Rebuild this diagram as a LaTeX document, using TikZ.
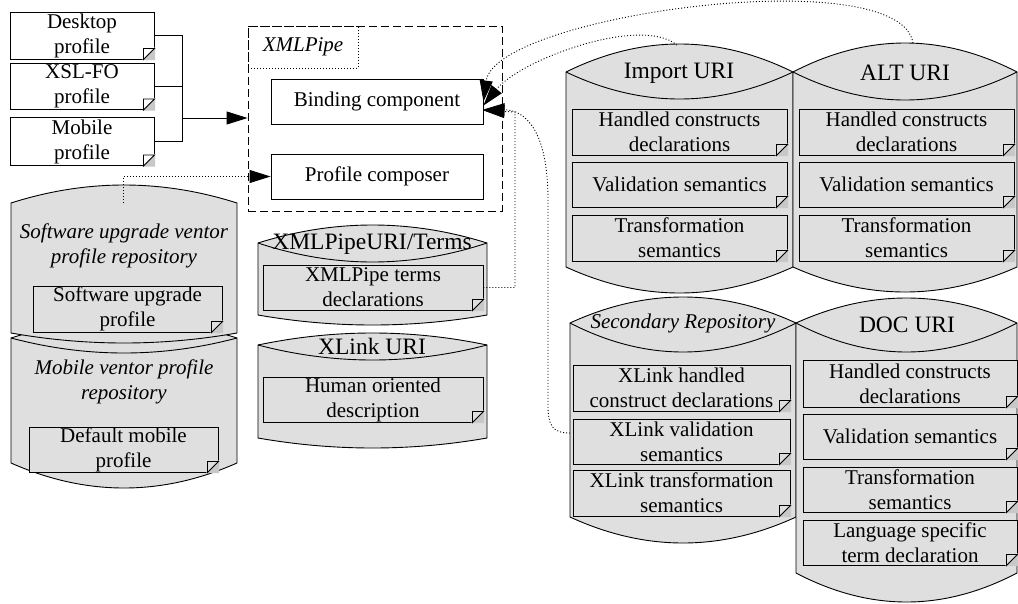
\documentclass[tikz,border=0pt]{standalone}
\usepackage{fontspec}
\setmainfont{Liberation Serif}
\usetikzlibrary{arrows.meta}
\definecolor{cylgray}{RGB}{223,223,223}
\definecolor{foldgray}{RGB}{200,200,200}
\newcommand\txtf{\fontsize{21}{25}\selectfont}
\newcommand\ttlf{\fontsize{23.5}{28}\selectfont}
\newcommand\cyl[7]{%
 \pgfmathsetmacro\cyA{#1+(#2-#1)/3}%
 \pgfmathsetmacro\cyB{#2-(#2-#1)/3}%
 \pgfmathsetmacro\cyU{#3+4/3*(#4-#3)}%
 \pgfmathsetmacro\cyL{#3+4/3*(#5-#3)}%
 \pgfmathsetmacro\cyD{#6+4/3*(#7-#6)}%
 \draw[line width=0.9pt, fill=cylgray] (#1,#3) .. controls (\cyA,\cyU) and (\cyB,\cyU) .. (#2,#3) -- (#2,#6) .. controls (\cyB,\cyD) and (\cyA,\cyD) .. (#1,#6) -- cycle;
 \ifnum#5=#3\relax\else\draw[line width=0.9pt] (#1,#3) .. controls (\cyA,\cyL) and (\cyB,\cyL) .. (#2,#3);\fi
}
\newcommand\fold[1]{%
 \fill[foldgray, draw=foldgray, line width=1.1pt] ([yshift=11pt]#1.south east) -- (#1.south east) -- ([xshift=-11pt]#1.south east) -- cycle;
 \draw[line width=0.9pt] ([yshift=11pt]#1.south east) -- ([xshift=-11pt]#1.south east) -- ([xshift=-11pt,yshift=11pt]#1.south east) -- cycle;
}
\newcommand\notebox[7]{%
 \node[#1, minimum width=#5pt, minimum height=#6pt] (#2) at (#3,#4) {#7};
 \fold{#2}
}
\begin{document}
\begin{tikzpicture}[x=1pt,y=-1pt,
  note/.style={draw, line width=0.9pt, inner sep=0pt, align=center, font=\txtf},
  wnote/.style={note, fill=white},
  gnote/.style={note, fill=cylgray},
  ttl/.style={inner sep=0pt, font=\ttlf},
  ittl/.style={inner sep=0pt, align=center, font=\txtf\itshape},
  conn/.style={line width=0.9pt},
  dotconn/.style={line width=0.9pt, dash pattern=on 1pt off 2pt},
  bigtip/.style={-{Triangle[length=21pt,width=13pt]}}]
\useasboundingbox (0,0) rectangle (1018,603);

% left profile boxes
\notebox{wnote}{desk}{82}{35.5}{144}{47}{Desktop\\profile}
\notebox{wnote}{xsl}{82}{86.5}{144}{46}{XSL-FO\\profile}
\notebox{wnote}{mob}{82}{141.5}{144}{48}{Mobile\\profile}

% XMLPipe container
\node[draw, line width=0.9pt, dash pattern=on 8pt off 4pt, minimum width=254pt, minimum height=185pt, inner sep=0pt] (pipe) at (375,118.5) {};
\node[draw, line width=0.8pt, dash pattern=on 1pt off 2pt, minimum width=110pt, minimum height=42pt, inner sep=0pt, font=\txtf\itshape] (pipelabel) at (303,47) {XMLPipe};
\node[wnote, minimum width=212pt, minimum height=45pt] (bc) at (377,101.5) {Binding component};
\node[wnote, minimum width=212pt, minimum height=45pt] (pc) at (377,176.5) {Profile composer};

% merge connector
\coordinate (j) at (182,118);
\draw[conn] (desk.east) -| (j);
\draw[conn] (xsl.east) -| (j);
\draw[conn] (mob.east) -| (j);
\draw[conn, bigtip] (j) -- (j -| pipe.west);

% left repositories
\cyl{11}{237}{338}{320}{353}{463}{488}
\node[ittl] (mobt) at (124,382) {Mobile ventor profile\\repository};
\notebox{gnote}{defmob}{123.5}{449.5}{189}{45}{Default mobile\\profile}
\cyl{11}{237}{203}{185}{203}{333}{343}
\node[ittl] (softt) at (124,246) {Software upgrade ventor\\profile repository};
\notebox{gnote}{softp}{127.5}{309}{189}{46}{Software upgrade\\profile}
\coordinate (softtop) at (123,203);
\draw[dotconn, bigtip] (softtop) |- (pc.west);

% middle repositories
\cyl{258}{487}{243}{225}{262}{315}{325}
\node[ttl] (termst) at (372,244) {XMLPipeURI/Terms};
\notebox{gnote}{tdecl}{373}{287.5}{220}{45}{XMLPipe terms\\declarations}
\cyl{258}{487}{345}{333}{360}{438}{448}
\node[ttl] (xlinkt) at (372,346) {XLink URI};
\notebox{gnote}{human}{373}{399.5}{220}{45}{Human oriented\\description}

% right repositories
\cyl{566}{793}{72}{44}{99}{267}{293}
\node[ttl] (impt) at (679,73) {Import URI};
\notebox{gnote}{imp1}{679.5}{132}{215}{46}{Handled constructs\\declarations}
\notebox{gnote}{imp2}{679.5}{184.5}{215}{45}{Validation semantics}
\notebox{gnote}{imp3}{679.5}{238}{215}{46}{Transformation\\semantics}

\cyl{793}{1017}{72}{43}{100}{267}{292}
\node[ttl] (altt) at (905,73) {ALT URI};
\notebox{gnote}{alt1}{906.5}{132}{215}{46}{Handled constructs\\declarations}
\notebox{gnote}{alt2}{906.5}{184.5}{215}{45}{Validation semantics}
\notebox{gnote}{alt3}{906.5}{238}{215}{46}{Transformation\\semantics}

\cyl{570}{796}{323}{297}{352}{517}{543}
\node[ittl] (sect) at (683,323) {Secondary Repository};
\notebox{gnote}{sec1}{681.5}{388}{217}{46}{XLink handled\\construct declarations}
\notebox{gnote}{sec2}{681.5}{441.5}{217}{45}{XLink validation\\semantics}
\notebox{gnote}{sec3}{681.5}{493}{217}{46}{XLink transformation\\semantics}

\cyl{796}{1017}{323}{298}{352}{573}{602}
\node[ttl] (doct) at (907,325) {DOC URI};
\notebox{gnote}{doc1}{910}{383.5}{214}{47}{Handled constructs\\declarations}
\notebox{gnote}{doc2}{910}{436.5}{214}{45}{Validation semantics}
\notebox{gnote}{doc3}{910}{489.5}{214}{45}{Transformation\\semantics}
\notebox{gnote}{doc4}{910}{542.5}{214}{45}{Language specific\\term declaration}

% dotted connectors into Binding component
\coordinate (imptop) at (677,45);
\coordinate (alttop) at (913,43);
\coordinate (secw) at (570,433);
\coordinate (tbend) at (515,112);
\draw[dotconn, bigtip] (alttop) .. controls (900,-40) and (495,15) .. (bc.east);
\draw[dotconn, bigtip] (imptop) .. controls (640,15) and (520,60) .. ([yshift=-4pt]bc.east);
\draw[dotconn, bigtip] (tdecl.east) -| (tbend) -- ([yshift=-9pt]bc.east);
\draw[dotconn, bigtip] (secw) .. controls (552,433) and (548,425) .. (548,405) -- (548,200) .. controls (548,130) and (525,110) .. ([yshift=-8pt]bc.east);
\end{tikzpicture}
\end{document}
